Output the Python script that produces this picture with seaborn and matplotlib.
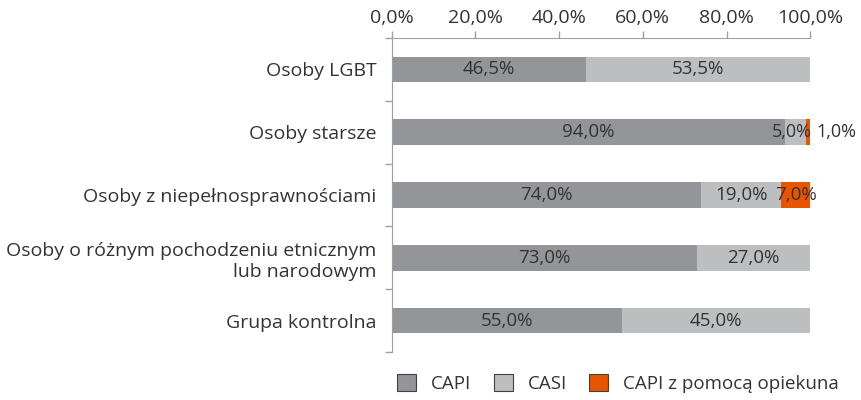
import numpy as np
import pandas as pd
import matplotlib.pyplot as plt
import seaborn as sns
from matplotlib.patches import Patch

# Dane
grupy = ['Osoby LGBT', 'Osoby starsze', 'Osoby z niepełnosprawnościami',
         'Osoby o różnym pochodzeniu etnicznym\nlub narodowym', 'Grupa kontrolna']
capi = [46.5, 94.0, 74.0, 73.0, 55.0]
casi = [53.5, 5.0, 19.0, 27.0, 45.0]
opiekun = [0.0, 1.0, 7.0, 0.0, 0.0]

serie = ['CAPI', 'CASI', 'CAPI z pomocą opiekuna']
kolory = ['#939598', '#bcbec0', '#e85400']

df = pd.DataFrame({'grupa': grupy, 'CAPI': capi, 'CASI': casi, 'opiekun': opiekun})
df['cum_capi'] = df['CAPI']
df['cum_casi'] = df['CAPI'] + df['CASI']
df['cum_all'] = df['cum_casi'] + df['opiekun']

sns.set_style('white')
plt.rcParams['font.family'] = ['Open Sans', 'DejaVu Sans']
tekst = '#333333'

fig = plt.figure(figsize=(8.61, 4.0), dpi=100)
ax = fig.add_axes([0.455, 0.12, 0.486, 0.785])

# Słupki skumulowane - rysowane od najdłuższego
for kol, c in zip(['cum_all', 'cum_casi', 'cum_capi'], kolory[::-1]):
    sns.barplot(data=df, y='grupa', x=kol, color=c, orient='h', width=0.41,
                saturation=1, ax=ax, linewidth=0)

# Etykiety
for i in range(len(grupy)):
    start = 0
    for v in [capi[i], casi[i], opiekun[i]]:
        if v > 0:
            lab = f'{v:.1f}%'.replace('.', ',')
            if v < 3:
                ax.text(start + v + 1.6, i, lab, ha='left', va='center',
                        fontsize=13, color=tekst)
            elif v < 6:
                ax.text(start + v / 2 - 1.0, i, lab, ha='center', va='center',
                        fontsize=13, color=tekst)
            else:
                ax.text(start + v / 2, i, lab, ha='center', va='center',
                        fontsize=13.5, color=tekst)
        start += v

ax.set_xlim(0, 100)
ax.set_ylim(4.5, -0.5)
ax.set_xlabel('')
ax.set_ylabel('')
ax.xaxis.tick_top()
ax.set_xticks(np.arange(0, 101, 20))
ax.set_xticklabels([f'{t:.1f}%'.replace('.', ',') for t in np.arange(0, 101, 20)])
ax.tick_params(axis='x', top=True, bottom=False, length=5, width=1, color='#a0a0a0',
               labelsize=14, labelcolor=tekst, pad=3)
ax.tick_params(axis='y', which='major', length=0, labelsize=14, labelcolor=tekst, pad=11)
ax.set_yticks(np.arange(-0.5, 5, 1), minor=True)
ax.tick_params(axis='y', which='minor', left=True, length=5, width=1, color='#a0a0a0')
for s in ['right', 'bottom']:
    ax.spines[s].set_visible(False)
for s in ['top', 'left']:
    ax.spines[s].set_color('#a0a0a0')

uchwyty = [Patch(facecolor=c, edgecolor='#404040', linewidth=0.8) for c in kolory]
fig.legend(uchwyty, serie, loc='center', bbox_to_anchor=(0.718, 0.042), ncol=3,
           frameon=False, fontsize=13.5, handlelength=1.0, handleheight=1.0,
           columnspacing=1.2, handletextpad=0.8, labelcolor=tekst)

fig.savefig('out.png', dpi=100)
